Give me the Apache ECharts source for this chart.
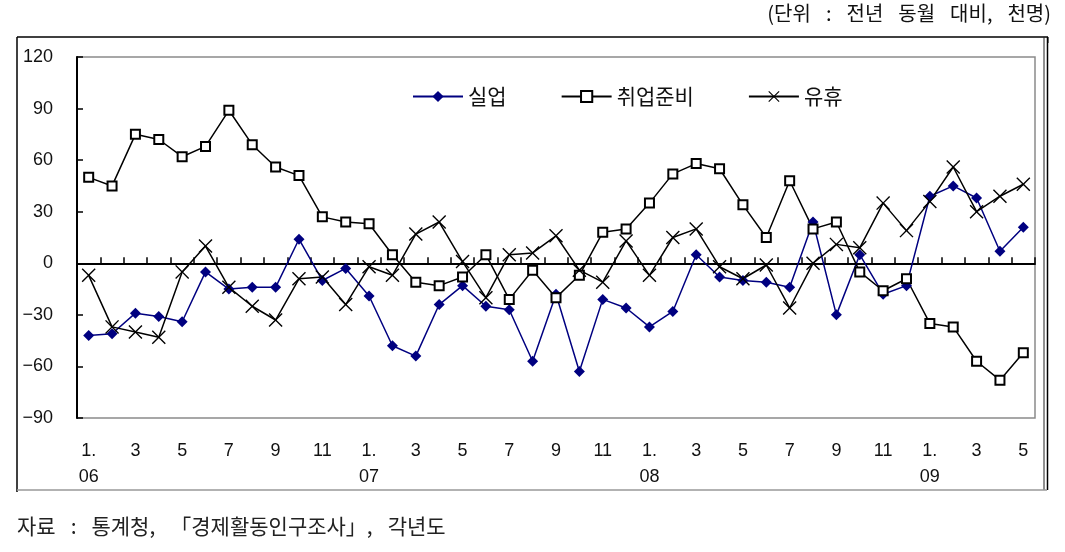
<!DOCTYPE html>
<html>
<head>
<meta charset="utf-8">
<script src="https://cdn.jsdelivr.net/npm/echarts/dist/echarts.min.js"></script>
<style>
  html, body { margin: 0; padding: 0; background: #fff; }
  #c { width: 1065px; height: 552px; }
</style>
</head>
<body>
<div id="c"></div>
<script>
// ---- data ----
const categories = [
  '1.\n06','2','3','4','5','6','7','8','9','10','11','12',
  '1.\n07','2','3','4','5','6','7','8','9','10','11','12',
  '1.\n08','2','3','4','5','6','7','8','9','10','11','12',
  '1.\n09','2','3','4','5'
];
const seriesNames = ['실업', '취업준비', '유휴'];
const unemployed = [-42,-41,-29,-31,-34,-5,-15,-14,-14,14, -10,-3,-19,-48,-54,-24,-13,-25,-27,-57,
  -18,-63,-21,-26,-37,-28,5,-8,-10,-11, -14,24,-30,5,-18,-13,39,45,38,7, 21];
const jobPrep = [50,45,75,72,62,68,89,69,56,51, 27,24,23,5,-11,-13,-8,5,-21,-4,
  -20,-7,18,20,35,52,58,55,34,15, 48,20,24,-5,-16,-9,-35,-37,-57,-68, -52];
const idle = [-7,-37,-40,-43,-5,10,-14,-25,-33,-9, -8,-24,-2,-7,17,24,1,-20,5,6,
  16,-4,-11,13,-7,15,20,-2,-9,-1, -26,0,11,9,35,19,36,56,30,39, 46];
const yTicks = [-90, -60, -30, 0, 30, 60, 90, 120];
const unitText = '(단위 : 전년 동월 대비, 천명)';
const sourceText = '자료 : 통계청, 「경제활동인구조사」, 각년도';

// ---- chart ----
const FONT_NUM = 'Liberation Sans, Arial, sans-serif';
const FONT_KR = 'Noto Sans CJK KR, sans-serif';
const X_PATH = 'path://M0,7L7,0L50,43L93,0L100,7L57,50L100,93L93,100L50,57L7,100L0,93L43,50Z';

function richify(text) {
  // keep the full text; give the spaces a fixed width
  return text.split(' ').map(w => '{w|' + w + '}').join('{sp| }');
}

const chart = echarts.init(document.getElementById('c'), null, { renderer: 'canvas' });
const option = {
  animation: false,
  backgroundColor: '#fff',
  grid: {
    left: 77, top: 57, right: 30, bottom: 134,
    show: true, borderColor: '#8a8a8a', borderWidth: 1.5, backgroundColor: 'transparent'
  },
  legend: {
    left: 407, top: 81,
    itemWidth: 50, itemHeight: 14, itemGap: 54,
    textStyle: { fontSize: 21, color: '#111', fontFamily: FONT_KR },
    data: seriesNames
  },
  xAxis: [
    {
      type: 'category', data: categories, position: 'bottom', boundaryGap: true,
      axisLine: { show: false, onZero: false },
      axisTick: { show: false },
      splitLine: { show: false },
      axisLabel: { interval: 1, margin: 20, fontSize: 18, lineHeight: 26, color: '#111', fontFamily: FONT_NUM }
    },
    {
      type: 'category', data: categories, position: 'top', boundaryGap: true,
      axisLine: { show: true, onZero: true, lineStyle: { color: '#000', width: 2 } },
      axisTick: { show: true, inside: false, length: 6, interval: 0, lineStyle: { color: '#000', width: 1.5 } },
      axisLabel: { show: false },
      splitLine: { show: false }
    }
  ],
  yAxis: {
    type: 'value',
    min: yTicks[0], max: yTicks[yTicks.length - 1], interval: yTicks[1] - yTicks[0],
    axisLine: { show: true, onZero: false, lineStyle: { color: '#000', width: 2 } },
    axisTick: { show: true, inside: true, length: 6, lineStyle: { color: '#000', width: 1.5 } },
    splitLine: { show: false },
    axisLabel: {
      margin: 24, fontSize: 18, color: '#111', fontFamily: FONT_NUM,
      formatter: v => (v < 0 ? '\u2212' + (-v) : String(v))
    }
  },
  series: [
    {
      name: seriesNames[0], type: 'line', data: unemployed,
      symbol: 'diamond', symbolSize: 11,
      itemStyle: { color: '#000080' },
      lineStyle: { color: '#000080', width: 1.5 }
    },
    {
      name: seriesNames[1], type: 'line', data: jobPrep,
      symbol: 'rect', symbolSize: 9,
      itemStyle: { color: '#fff', borderColor: '#000', borderWidth: 2 },
      lineStyle: { color: '#000', width: 1.5 }
    },
    {
      name: seriesNames[2], type: 'line', data: idle,
      symbol: X_PATH, symbolSize: 14,
      itemStyle: { color: '#000' },
      lineStyle: { color: '#000', width: 1.5 }
    }
  ],
  graphic: [
    // outer frame
    { type: 'line', shape: { x1: 17, y1: 37, x2: 1048, y2: 37 }, style: { stroke: '#000', lineWidth: 1.5 } },
    { type: 'line', shape: { x1: 1048, y1: 37, x2: 1048, y2: 43 }, style: { stroke: '#000', lineWidth: 1 } },
    { type: 'line', shape: { x1: 17, y1: 37, x2: 17, y2: 492 }, style: { stroke: '#000', lineWidth: 1.5 } },
    { type: 'line', shape: { x1: 1044, y1: 37, x2: 1044, y2: 490 }, style: { stroke: '#222', lineWidth: 1 } },
    { type: 'line', shape: { x1: 1047.5, y1: 37, x2: 1047.5, y2: 490 }, style: { stroke: '#000', lineWidth: 1.5 } },
    { type: 'line', shape: { x1: 17, y1: 490, x2: 1047, y2: 490 }, style: { stroke: '#999', lineWidth: 1.5 } },
    // unit note
    {
      type: 'text', right: 14, top: 3,
      style: {
        text: richify(unitText), fill: '#111',
        font: '20px ' + FONT_KR,
        rich: { w: { fontSize: 20, fontFamily: FONT_KR, fill: '#111' }, sp: { width: 15, fontSize: 20 } }
      }
    },
    // source
    {
      type: 'text', left: 17, top: 516,
      style: {
        text: richify(sourceText), fill: '#222',
        font: '21px ' + FONT_KR,
        rich: { w: { fontSize: 21, fontFamily: FONT_KR, fill: '#222' }, sp: { width: 15, fontSize: 21 } }
      }
    }
  ]
};
chart.setOption(option);
</script>
</body>
</html>
